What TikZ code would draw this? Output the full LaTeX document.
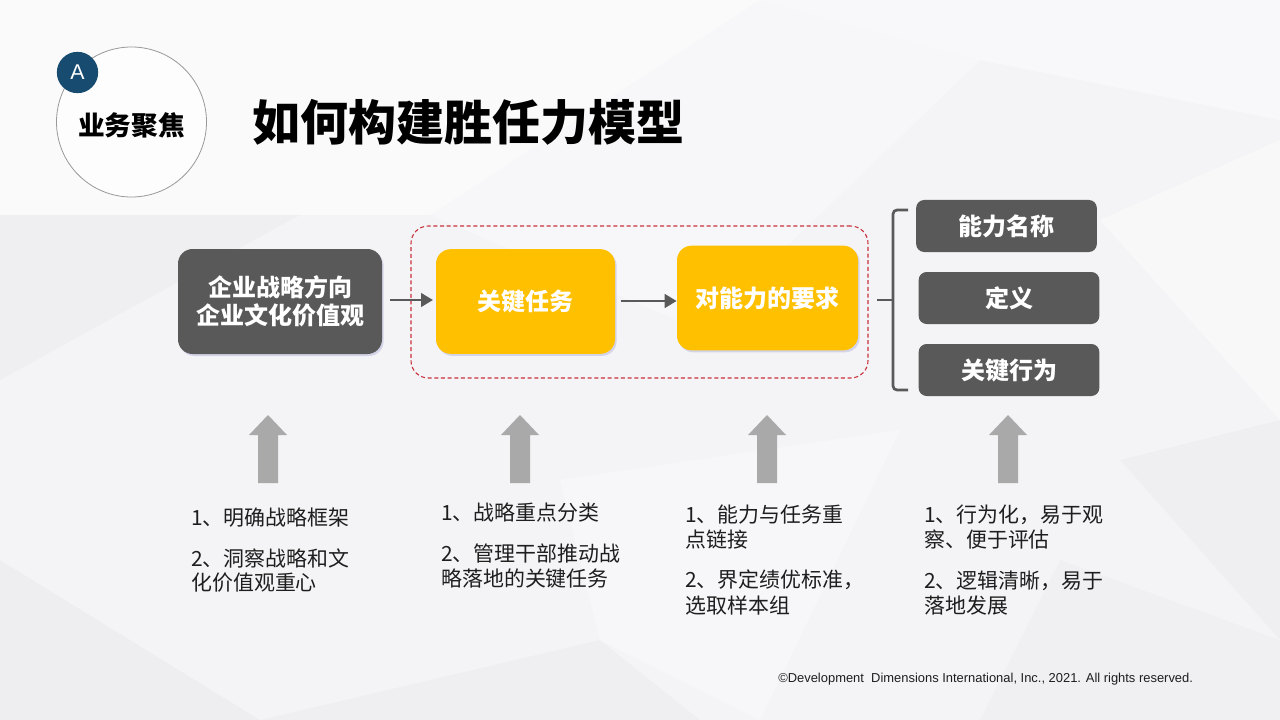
\documentclass[tikz,border=0pt]{standalone}
\usepackage{fontspec}
\setmainfont{Noto Sans CJK SC}
\newfontfamily\latinfont{Liberation Sans}
\usetikzlibrary{arrows.meta,shadows}
\definecolor{boxgray}{HTML}{595959}
\definecolor{goldbox}{HTML}{FFC000}
\definecolor{upgray}{HTML}{A9A9A9}
\definecolor{badgeblue}{HTML}{184B70}
\definecolor{dashred}{HTML}{C8303C}
\definecolor{bgbase}{HTML}{F4F4F6}
\definecolor{txtdark}{HTML}{1E1E1E}
\begin{document}
\begin{tikzpicture}[x=0.75pt,y=-0.75pt,
  boxshadow/.style={drop shadow={shadow xshift=1.2pt,shadow yshift=-1.5pt,fill=black!45!blue!40,opacity=0.35}},
  darkbox/.style={fill=boxgray,text=white,align=center,inner sep=0pt,boxshadow,
     font=\fontsize{18}{21}\selectfont\bfseries},
  goldbox/.style={fill=goldbox,text=white,align=center,inner sep=0pt,boxshadow,rounded corners=11pt,
     minimum height=78.5pt,font=\fontsize{18}{21}\selectfont\bfseries},
  sidebox/.style={fill=boxgray,text=white,inner sep=0pt,rounded corners=6pt,
     minimum width=135.5pt,minimum height=39pt,font=\fontsize{18}{21}\selectfont\bfseries},
  flow/.style={draw=boxgray,line width=2.2pt,-{Triangle[length=9pt,width=10pt]}},
  listline/.style={anchor=west,inner sep=0pt,text=txtdark,font=\fontsize{15.7}{18}\selectfont},
  uparrow/.pic={\fill[upgray] (-10,68) -- (-10,20) -- (-19,20) -- (0,0) -- (19,20) -- (10,20) -- (10,68) -- cycle;}
]
\useasboundingbox (0,0) rectangle (1280,720);
% background
\fill[bgbase] (0,0) rectangle (1280,720);
\fill[white,opacity=0.55] (0,0) -- (760,0) -- (430,215) -- (0,215) -- cycle;
\fill[white,opacity=0.45] (760,0) -- (1280,0) -- (1280,120) -- (980,60) -- cycle;
\fill[white,opacity=0.35] (430,215) -- (760,0) -- (980,60) -- (700,330) -- cycle;
\fill[white,opacity=0.4] (1100,220) -- (1280,140) -- (1280,420) -- cycle;
\fill[black,opacity=0.02] (0,215) -- (300,215) -- (0,380) -- cycle;
\fill[black,opacity=0.025] (0,560) -- (260,720) -- (0,720) -- cycle;
\fill[black,opacity=0.02] (260,720) -- (600,640) -- (700,720) -- cycle;
\fill[black,opacity=0.02] (1120,460) -- (1280,420) -- (1280,640) -- cycle;
\fill[white,opacity=0.35] (560,480) -- (900,430) -- (760,720) -- (600,640) -- cycle;
\fill[black,opacity=0.015] (1060,560) -- (1280,640) -- (1280,720) -- (980,720) -- cycle;

% header
\node[circle,draw=gray!80,line width=0.6pt,fill=white,fill opacity=0.75,minimum size=112.5pt,inner sep=0pt] (focus) at (131.5,122) {};
\node[font=\fontsize{20}{24}\selectfont\bfseries,text=black] (focuslbl) at (131.5,125) {业务聚焦};
\node[circle,fill=badgeblue,minimum size=31pt,inner sep=0pt,text=white,font=\latinfont\fontsize{16}{18}\selectfont] (badge) at (77.5,72.5) {A};
\node[anchor=west,inner sep=0pt,font=\fontsize{36}{40}\selectfont\bfseries,text=black] (title) at (252,122) {如何构建胜任力模型};

% flow
\node[draw=dashred,line width=0.8pt,dash pattern=on 3pt off 2pt,rounded corners=13pt,minimum width=342.75pt,minimum height=114pt] (grp) at (639.5,302) {};
\node[darkbox,rounded corners=11pt,minimum width=153pt,minimum height=78.75pt] (strategy) at (280,301.5) {企业战略方向\\企业文化价值观};
\node[goldbox,minimum width=134.25pt] (tasks) at (525.5,301.5) {关键任务};
\node[goldbox,minimum width=135.75pt] (req) at (767.5,298) {对能力的要求};
\draw[flow,shorten <=6pt,shorten >=2pt] (strategy.east |- 0,300) -- (tasks.west |- 0,300);
\draw[flow,shorten <=4pt] (tasks.east |- 0,301) -- (req.west |- 0,301);

% bracket
\coordinate (brtip) at (877,300);
\coordinate (brmid) at (893,300);
\coordinate (brtop) at (908,210);
\coordinate (brbot) at (908,390);
\draw[boxgray,line width=2pt,rounded corners=3pt] (brtop) -- (brmid |- brtop) -- (brmid |- brbot) -- (brbot);
\draw[boxgray,line width=2pt] (brtip) -- (brmid);

\node[sidebox] (name) at (1006.5,226) {能力名称};
\node[sidebox] (defn) at (1009,298) {定义};
\node[sidebox] (behav) at (1009,370) {关键行为};

% up arrows
\pic (up1) at (268,415) {uparrow};
\pic (up2) at (520,415) {uparrow};
\pic (up3) at (767,415) {uparrow};
\pic (up4) at (1008,415) {uparrow};

% lists
\node[listline] (l1a) at (191,518) {1、明确战略框架};
\node[listline] (l1b) at (191,558) {2、洞察战略和文};
\node[listline] (l1c) at (191,583) {化价值观重心};

\node[listline] (l2a) at (441,513) {1、战略重点分类};
\node[listline] (l2b) at (441,554) {2、管理干部推动战};
\node[listline] (l2c) at (441,579) {略落地的关键任务};

\node[listline] (l3a) at (685,515) {1、能力与任务重};
\node[listline] (l3b) at (685,540) {点链接};
\node[listline] (l3c) at (685,580) {2、界定绩优标准，};
\node[listline] (l3d) at (685,606) {选取样本组};

\node[listline] (l4a) at (924,515) {1、行为化，易于观};
\node[listline] (l4b) at (924,540) {察、便于评估};
\node[listline] (l4c) at (924,581) {2、逻辑清晰，易于};
\node[listline] (l4d) at (924,606) {落地发展};

\node[anchor=west,inner sep=0pt,text=txtdark,font=\latinfont\fontsize{9.7}{11}\selectfont] (copy) at (778,679) {©Development\ \ Dimensions International, Inc., 2021. All rights reserved.};
\end{tikzpicture}
\end{document}
